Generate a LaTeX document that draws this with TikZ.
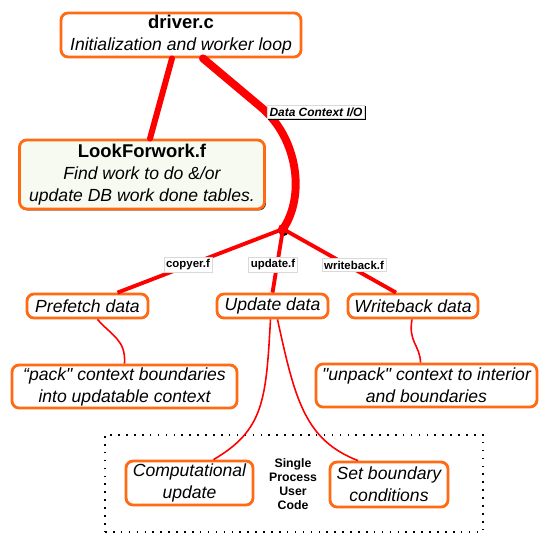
\documentclass[tikz,border=0pt]{standalone}
\usepackage{fontspec}
\setmainfont{Liberation Sans}
\definecolor{boxorange}{HTML}{FF6A13}
\definecolor{linkred}{HTML}{FF0000}
\definecolor{boxfill}{HTML}{F7FAF0}
\usepackage{tikz}
\usetikzlibrary{
  positioning, calc, shadows
}
\tikzset{
	boxnode/.style={
			rectangle,
			rounded corners=4pt,
			draw=boxorange,
			line width=1.6pt,
			fill=white,
			align=center,
			inner sep=0pt,
			font=\fontsize{10}{12.5}\selectfont\itshape
		},
	shadowbox/.style={
			boxnode,
			fill=boxfill,
			drop shadow={shadow xshift=0.8pt, shadow yshift=-0.8pt, opacity=1, fill=black}
		},
	filelabel/.style={
			rectangle,
			draw=gray!30,
			thin,
			fill=white,
			inner sep=1.2pt,
			font=\fontsize{6.5}{7.5}\selectfont\bfseries,
			drop shadow={shadow xshift=0.6pt, shadow yshift=-0.6pt, opacity=1, fill=black}
		},
	dotbox/.style={
			rectangle,
			draw=black,
			line width=0.9pt,
			dash pattern=on 0.9pt off 3.6pt
		},
	mainlink/.style={
			line width=3.4pt,
			linkred,
			line cap=round
		},
	branchlink/.style={
			line width=2.2pt,
			linkred
		},
	thinlink/.style={
			line width=0.9pt,
			linkred
		}
}

\begin{document}
\begin{tikzpicture}[x=0.02cm, y=-0.02cm]
\useasboundingbox (0,0) rectangle (554,544);

\node[dotbox, minimum width=7.56cm, minimum height=1.94cm] (usr) at (294,483.5) {};

\node[boxnode, minimum width=4.8cm, minimum height=0.88cm] (drv) at (181,35) {\textup{\textbf{\fontsize{10.5}{12.5}\selectfont driver.c}}\\Initialization and worker loop};
\node[shadowbox, minimum width=4.9cm, minimum height=1.38cm] (lfw) at (142,174.5) {\textup{\textbf{\fontsize{10.5}{12.5}\selectfont LookForwork.f}}\\Find work to do \&/or\\update DB work done tables.};
\node[circle, fill=linkred, minimum size=0.2cm, inner sep=0pt,
      drop shadow={shadow xshift=0.3pt, shadow yshift=-1.2pt, opacity=1, fill=black}] (jn) at (283,229) {};

\node[boxnode, minimum width=2.42cm, minimum height=0.48cm] (pre) at (87.5,306) {Prefetch data};
\node[boxnode, minimum width=2.22cm, minimum height=0.48cm] (upd) at (272.5,306) {Update data};
\node[boxnode, minimum width=2.6cm, minimum height=0.48cm] (wbk) at (413,306) {Writeback data};

\node[boxnode, minimum width=4.5cm, minimum height=0.86cm] (pack) at (124.5,386.5) {``pack\textquotedbl{} context boundaries\\into updatable context};
\node[boxnode, minimum width=4.42cm, minimum height=0.86cm] (unpack) at (426.5,385.5) {\textquotedbl unpack\textquotedbl{} context to interior\\and boundaries};

\node[boxnode, minimum width=2.54cm, minimum height=0.88cm] (comp) at (189.5,483) {Computational\\update};
\node[boxnode, minimum width=2.36cm, minimum height=0.9cm] (bc) at (389,484.5) {Set boundary\\conditions};
\node[align=center, font=\fontsize{7}{8}\selectfont\bfseries] (spuc) at (293,484) {Single\\Process\\User\\Code};

\draw[mainlink] ([xshift=-0.18cm]drv.south) -- ([xshift=0.16cm]lfw.north);
\draw[mainlink, line width=4.5pt, line join=round] ([xshift=0.44cm]drv.south) -- (262,108)
  .. controls (297,138) and (306,195) .. (jn.center);

\draw[branchlink] (jn.center) -- ([xshift=0.6cm]pre.north);
\draw[branchlink] (jn.center) -- (upd.north);
\draw[branchlink] (jn.center) -- ([xshift=-0.34cm]wbk.north);

\draw[thinlink] ([xshift=0.2cm]pre.south) .. controls (112,336) and (126,340) .. (pack.north);
\draw[thinlink] ([xshift=-0.02cm]wbk.south) .. controls (408,342) and (420,345) .. ([xshift=-0.12cm]unpack.north);
\draw[thinlink] ([xshift=-0.04cm]upd.south) .. controls (266,400) and (264,430) .. ([xshift=0.48cm]comp.north);
\draw[thinlink] ([xshift=0.1cm]upd.south) .. controls (295,400) and (305,440) .. ([xshift=-0.62cm]bc.north);

\node[filelabel, font=\fontsize{6.8}{7.5}\selectfont\bfseries\itshape] (dio) at (316,112) {Data Context I/O};
\node[filelabel] (cpy) at (188,265) {copyer.f};
\node[filelabel] (updf) at (273,265) {update.f};
\node[filelabel] (wbf) at (354,265) {writeback.f};
\end{tikzpicture}
\end{document}
